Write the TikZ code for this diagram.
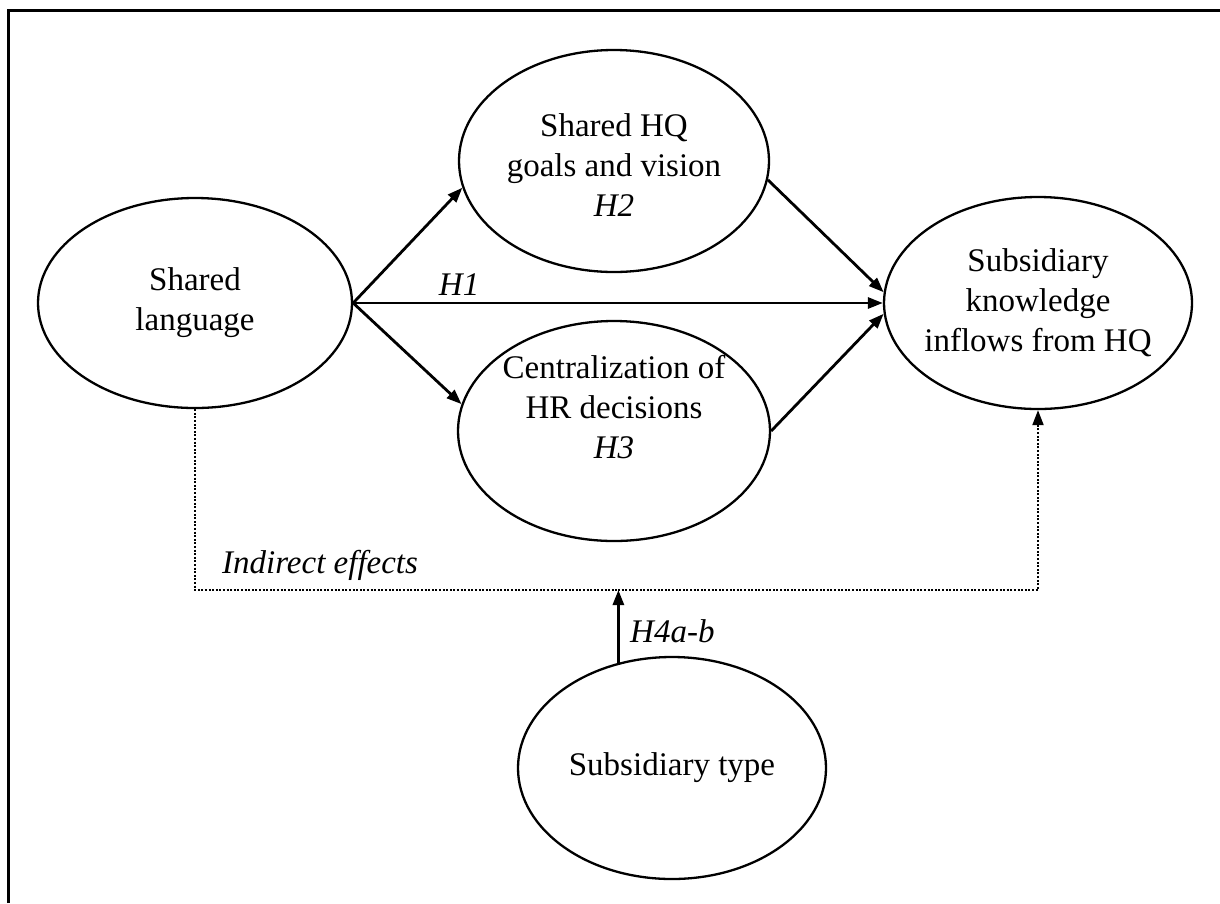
\documentclass[tikz,border=0pt]{standalone}
\usepackage{fontspec}
\setmainfont{Liberation Serif}
\usetikzlibrary{arrows.meta,shapes.geometric}
\begin{document}
\begin{tikzpicture}[x=1pt,y=-1pt,
  ell/.style={draw,ellipse,line width=2.3pt,inner sep=0pt},
  txt/.style={align=center,inner sep=0pt,font=\fontsize{33}{40}\selectfont},
  lbl/.style={inner sep=0pt,font=\fontsize{33}{40}\selectfont\itshape},
  arr/.style={line width=2.8pt,-{Triangle[length=15pt,width=11pt]}},
  dots/.style={line width=2pt,dash pattern=on 2pt off 1.6pt}
]
\useasboundingbox (0,0) rectangle (1220,903);
\draw[line width=3pt] (8,903) -- (8,10) -- (1220,10);

\node[ell,minimum width=314pt,minimum height=210pt] (lang) at (195,303) {};
\node[ell,minimum width=310pt,minimum height=222pt] (goals) at (614,161) {};
\node[ell,minimum width=312pt,minimum height=220pt] (central) at (614,431) {};
\node[ell,minimum width=308pt,minimum height=212pt] (know) at (1038,303) {};
\node[ell,minimum width=308pt,minimum height=222pt] (subt) at (672,768) {};

\node[txt] (langt) at (lang) {Shared\\language};
\node[txt] (goalst) at (614,165) {Shared HQ\\goals and vision\\\textit{H2}};
\node[txt] (centralt) at (614,407) {Centralization of\\HR decisions\\\textit{H3}};
\node[txt] (knowt) at (know) {Subsidiary\\knowledge\\inflows from HQ};
\node[txt] (subtt) at (subt) {Subsidiary type};

\draw[arr] (lang.east) -- (goals.190);
\draw[arr] (lang.east) -- (central.170);
\draw[arr] (lang.east) -- node[lbl,above=6pt,pos=0.2] (h1) {H1} (know.west);
\draw[arr] (goals.-7) -- (know.176);
\draw[arr] (central.east) -- (know.184);

\coordinate (mid) at (618,590);
\draw[dots] (lang.south) |- (mid);
\draw[dots,-{Triangle[length=15pt,width=11pt]}] (mid) -| (know.south);
\node[lbl,anchor=base west] (ind) at (222,573) {Indirect effects};
\draw[arr] (subt.117) -- (subt.117 |- mid);
\node[lbl,anchor=base west] (h4) at (630,642) {H4a-b};
\end{tikzpicture}
\end{document}
